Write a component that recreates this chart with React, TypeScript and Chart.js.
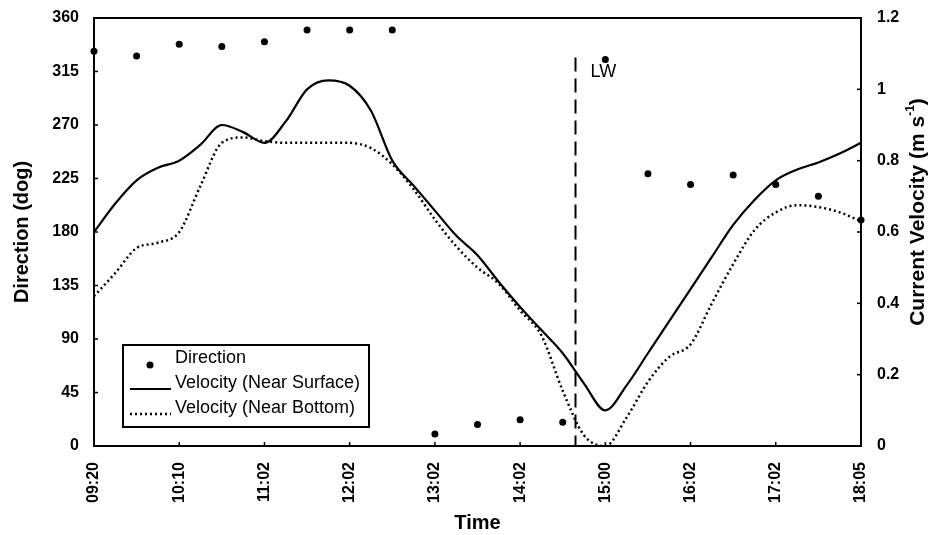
import React, { useEffect, useRef } from 'react';
import { Chart, registerables } from 'chart.js';

Chart.register(...registerables);

// ---- data ----
const timeLabels = ['09:20', '10:10', '11:02', '12:02', '13:02', '14:02', '15:00', '16:02', '17:02', '18:05'];

// Direction (deg) sampled every half time-label interval (19 samples)
const directionDeg = [332, 328, 338, 336, 340, 350, 350, 350, 10, 18, 22, 20, 325, 229, 220, 228, 220, 210, 190];

// Velocity (m/s) sampled every quarter time-label interval (37 samples)
const velocitySurface = [
  0.6, 0.68, 0.745, 0.78, 0.8, 0.845, 0.9, 0.88, 0.85, 0.91, 1.0, 1.025, 1.01, 0.94, 0.8, 0.73, 0.66, 0.59, 0.535,
  0.46, 0.39, 0.325, 0.26, 0.175, 0.1, 0.17, 0.26, 0.35, 0.44, 0.53, 0.62, 0.69, 0.745, 0.775, 0.795, 0.82, 0.85,
];
const velocityBottom = [
  0.42, 0.485, 0.555, 0.57, 0.6, 0.73, 0.85, 0.865, 0.855, 0.85, 0.85, 0.85, 0.85, 0.835, 0.79, 0.72, 0.635, 0.56, 0.5,
  0.455, 0.38, 0.31, 0.155, 0.03, 0.0, 0.08, 0.18, 0.25, 0.285, 0.4, 0.51, 0.605, 0.655, 0.675, 0.67, 0.655, 0.63,
];

const seriesLabels = ['Direction', 'Velocity (Near Surface)', 'Velocity (Near Bottom)'];
const lowWaterIndex = 11.3; // position of LW in direction-sample units
const lowWaterTopDeg = 325;
const lowWaterLabel = 'LW';

const FONT = '"Liberation Sans", Arial, Helvetica, sans-serif';

const dirPoints = directionDeg.map((v, i) => ({ x: i, y: v }));
const surfPoints = velocitySurface.map((v, i) => ({ x: i / 2, y: v }));
const botPoints = velocityBottom.map((v, i) => ({ x: i / 2, y: v }));

const annotPlugin = {
  id: 'annot',
  beforeDatasetsDraw(chart: any) {
    const { ctx, chartArea: a, scales } = chart;
    ctx.save();
    const x = scales.x.getPixelForValue(lowWaterIndex);
    const yTop = scales.y.getPixelForValue(lowWaterTopDeg);
    ctx.strokeStyle = '#000';
    ctx.lineWidth = 2;
    ctx.setLineDash([14, 7]);
    ctx.beginPath();
    ctx.moveTo(x, yTop - 2);
    ctx.lineTo(x, a.bottom);
    ctx.stroke();
    ctx.setLineDash([]);
    ctx.fillStyle = '#000';
    ctx.font = `18px ${FONT}`;
    ctx.textAlign = 'left';
    ctx.textBaseline = 'middle';
    ctx.fillText(lowWaterLabel, x + 15, yTop + 12);
    ctx.restore();
  },
  afterDraw(chart: any) {
    const { ctx, chartArea: a, scales } = chart;
    ctx.save();
    ctx.strokeStyle = '#000';
    ctx.fillStyle = '#000';
    // top frame line
    ctx.lineWidth = 2;
    ctx.beginPath();
    ctx.moveTo(a.left - 1, a.top);
    ctx.lineTo(a.right + 1, a.top);
    ctx.stroke();
    // inside tick marks
    ctx.lineWidth = 1.5;
    scales.y.ticks.forEach((t: any) => {
      const y = scales.y.getPixelForValue(t.value);
      ctx.beginPath();
      ctx.moveTo(a.left, y);
      ctx.lineTo(a.left + 4, y);
      ctx.stroke();
    });
    scales.y1.ticks.forEach((t: any) => {
      const y = scales.y1.getPixelForValue(t.value);
      ctx.beginPath();
      ctx.moveTo(a.right - 4, y);
      ctx.lineTo(a.right, y);
      ctx.stroke();
    });
    scales.x.ticks.forEach((t: any) => {
      const x = scales.x.getPixelForValue(t.value);
      ctx.beginPath();
      ctx.moveTo(x, a.bottom - 4);
      ctx.lineTo(x, a.bottom);
      ctx.stroke();
    });

    // right axis title (reads bottom to top)
    const cy = (a.top + a.bottom) / 2 - 20;
    ctx.save();
    ctx.translate(918, cy);
    ctx.rotate(-Math.PI / 2);
    ctx.textBaseline = 'middle';
    ctx.textAlign = 'left';
    const main = 'Current Velocity (m s';
    const sup = '-1';
    const close = ')';
    ctx.font = `bold 21px ${FONT}`;
    const wMain = ctx.measureText(main).width;
    const wClose = ctx.measureText(close).width;
    ctx.font = `bold 12px ${FONT}`;
    const wSup = ctx.measureText(sup).width;
    const total = wMain + wSup + wClose;
    let sx = -total / 2;
    ctx.font = `bold 21px ${FONT}`;
    ctx.fillText(main, sx, 0);
    sx += wMain;
    ctx.font = `bold 12px ${FONT}`;
    ctx.fillText(sup, sx, -7);
    sx += wSup;
    ctx.font = `bold 21px ${FONT}`;
    ctx.fillText(close, sx, 0);
    ctx.restore();

    // legend box
    const bx = a.left + 29;
    const by = a.bottom - 101;
    const bw = 246;
    const bh = 82;
    ctx.fillStyle = '#fff';
    ctx.fillRect(bx, by, bw, bh);
    ctx.lineWidth = 2;
    ctx.strokeRect(bx, by, bw, bh);
    ctx.fillStyle = '#000';
    ctx.font = `18px ${FONT}`;
    ctx.textAlign = 'left';
    ctx.textBaseline = 'middle';
    const ds = chart.data.datasets;
    ds.forEach((d: any, i: number) => {
      const ty = by + 13 + i * 25;
      ctx.fillText(d.label, bx + 52, ty);
      const sy = ty + 6;
      if (i === 0) {
        ctx.beginPath();
        ctx.arc(bx + 27, sy + 1, 3.5, 0, Math.PI * 2);
        ctx.fill();
      } else {
        ctx.lineWidth = d.borderWidth;
        ctx.setLineDash(d.borderDash || []);
        ctx.beginPath();
        ctx.moveTo(bx + 7, sy);
        ctx.lineTo(bx + 48, sy);
        ctx.stroke();
        ctx.setLineDash([]);
      }
    });
    ctx.restore();
  },
};

export default function App() {
  const ref = useRef<HTMLCanvasElement | null>(null);
  useEffect(() => {
    if (!ref.current) return;
    const chart = new Chart(ref.current, {
      type: 'line',
      data: {
        datasets: [
          {
            label: seriesLabels[0],
            data: dirPoints,
            yAxisID: 'y',
            showLine: false,
            pointRadius: 3.5,
            pointBackgroundColor: '#000',
            pointBorderColor: '#000',
            pointBorderWidth: 0,
            borderColor: '#000',
            clip: false,
          } as any,
          {
            label: seriesLabels[1],
            data: surfPoints,
            yAxisID: 'y1',
            borderColor: '#000',
            borderWidth: 2.2,
            pointRadius: 0,
            cubicInterpolationMode: 'monotone',
            fill: false,
          },
          {
            label: seriesLabels[2],
            data: botPoints,
            yAxisID: 'y1',
            borderColor: '#000',
            borderWidth: 2.5,
            borderDash: [2, 3],
            pointRadius: 0,
            cubicInterpolationMode: 'monotone',
            fill: false,
          },
        ],
      },
      options: {
        responsive: false,
        animation: false,
        devicePixelRatio: 1,
        layout: { padding: { top: 18, left: 0, right: 0, bottom: 0 } },
        plugins: {
          legend: { display: false },
          tooltip: { enabled: false },
        },
        scales: {
          x: {
            type: 'linear',
            min: 0,
            max: 18,
            grid: { display: false, drawTicks: false },
            border: { display: true, color: '#000', width: 2 },
            ticks: {
              stepSize: 2,
              autoSkip: false,
              minRotation: 90,
              maxRotation: 90,
              padding: 16,
              color: '#000',
              font: { family: FONT, size: 16, weight: 'bold' },
              callback: (v: any) => {
                const i = Number(v) / 2;
                return Number.isInteger(i) ? timeLabels[i] : '';
              },
            },
            title: {
              display: true,
              text: 'Time',
              color: '#000',
              font: { family: FONT, size: 20, weight: 'bold' },
              padding: { top: 0, bottom: 0 },
            },
            afterFit: (s: any) => {
              s.height = 89;
              s.paddingLeft = 0;
              s.paddingRight = 0;
            },
          },
          y: {
            type: 'linear',
            position: 'left',
            min: 0,
            max: 360,
            grid: { display: false, drawTicks: false },
            border: { display: true, color: '#000', width: 2 },
            ticks: {
              stepSize: 45,
              padding: 15,
              color: '#000',
              font: { family: FONT, size: 16, weight: 'bold' },
            },
            title: {
              display: true,
              text: 'Direction (dog)',
              color: '#000',
              font: { family: FONT, size: 20, weight: 'bold' },
              padding: { top: 10, bottom: 0 },
            },
            afterFit: (s: any) => {
              s.width = 94;
              s.paddingTop = 0;
              s.paddingBottom = 0;
            },
          },
          y1: {
            type: 'linear',
            position: 'right',
            min: 0,
            max: 1.2,
            grid: { display: false, drawTicks: false },
            border: { display: true, color: '#000', width: 2 },
            ticks: {
              stepSize: 0.2,
              padding: 16,
              color: '#000',
              font: { family: FONT, size: 16, weight: 'bold' },
              callback: (v: any) => String(parseFloat(Number(v).toFixed(1))),
            },
            afterFit: (s: any) => {
              s.width = 73;
              s.paddingTop = 0;
              s.paddingBottom = 0;
            },
          },
        },
      } as any,
      plugins: [annotPlugin],
    });
    return () => chart.destroy();
  }, []);

  return (
    <div style={{ position: 'absolute', left: 0, top: 0, width: 934, height: 535, background: '#fff' }}>
      <canvas ref={ref} width={934} height={535} style={{ display: 'block' }} />
    </div>
  );
}
